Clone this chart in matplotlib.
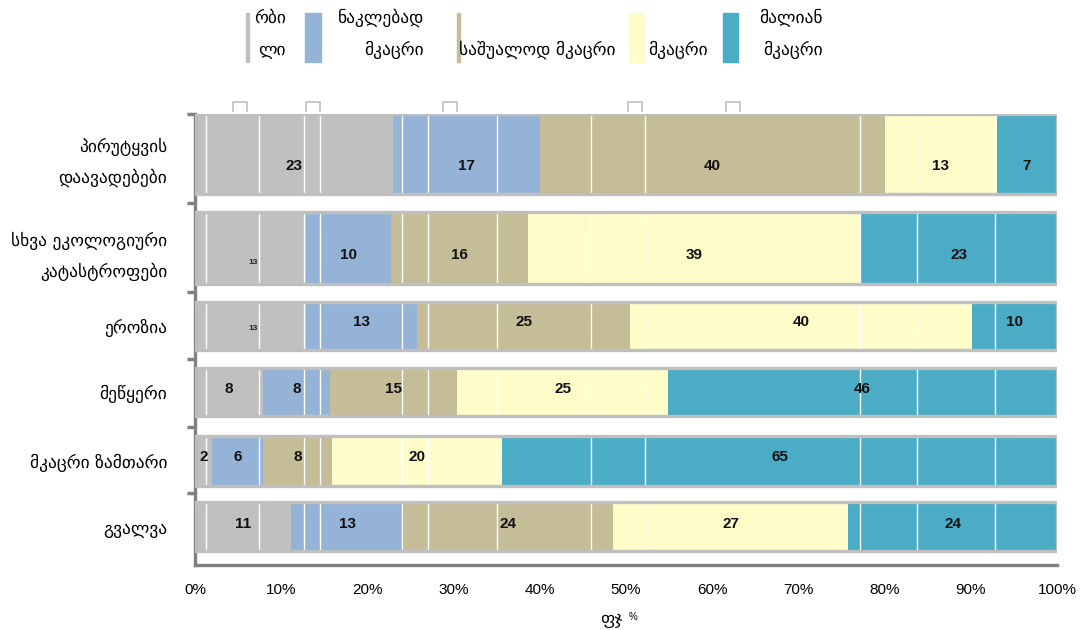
import numpy as np
import matplotlib
matplotlib.use("Agg")
import matplotlib.pyplot as plt
from matplotlib.patches import Rectangle

# survey shares per hazard (row labels as printed, left to right by severity)
categories = [
    "პირუტყვის\nდაავადებები",
    "სხვა ეკოლოგიური\nკატასტროფები",
    "ეროზია",
    "მეწყერი",
    "მკაცრი ზამთარი",
    "გვალვა",
]
soft = [23, 13, 13, 8, 2, 11]
less_severe = [17, 10, 13, 8, 6, 13]
medium = [40, 16, 25, 15, 8, 24]
severe = [13, 39, 40, 25, 20, 27]
very_severe = [7, 23, 10, 46, 65, 24]

series_names = ["რბი\nლი", "ნაკლებად\nმკაცრი", "საშუალოდ მკაცრი", "მკაცრი", "მალიან\nმკაცრი"]
colors = ["#c0c0c0", "#95b3d7", "#c4bd97", "#fefdca", "#4bacc6"]
tick_values = np.arange(0, 101, 10)

W, H = 1086, 630
GEO = "DejaVu Sans"
NUM = "Liberation Sans"
GEO_SIZE = 12.5

# row layout in pixels: band heights, bar padding, bar heights, label nudges
band_px = [89, 89, 67, 68, 66, 72]
bar_pad = [0, 9, 10, 9, 9, 9]
bar_h = [80, 72, 48, 48, 50, 49]
label_dy = [12, 7, -4, -3, -4, -3]
small_label = {(1, 0), (2, 0)}
streaks = [1.3, 7.4, 12.6, 14.5, 24.0, 27.0, 35.0, 45.9, 52.2, 77.1, 83.8, 92.8]

fig = plt.figure(figsize=(W / 100, H / 100), dpi=100)
ax = fig.add_axes([195 / W, 1 - 565 / H, 862 / W, 451 / H])

edges = np.concatenate([[0], np.cumsum(band_px)])
centers = edges[:-1] + np.array(bar_pad) + np.array(bar_h) / 2

data = np.array([soft, less_severe, medium, severe, very_severe], dtype=float)
shares = data / data.sum(axis=0) * 100
left = np.zeros(len(categories))

for k in range(len(series_names)):
    ax.barh(centers, shares[k], left=left, height=bar_h, color=colors[k],
            edgecolor="none", zorder=2)
    for i in range(len(categories)):
        x = left[i] + shares[k][i] / 2
        if (i, k) in small_label:
            ax.text(x + 0.3, centers[i] + label_dy[i] + 7, f"{int(data[k][i])}",
                    ha="center", va="center", fontsize=6, fontweight="bold",
                    family=NUM, color="#222222", zorder=5)
        else:
            ax.text(x, centers[i] + label_dy[i], f"{int(data[k][i])}",
                    ha="center", va="center", fontsize=11, fontweight="bold",
                    family=NUM, color="#111111", zorder=5)
    left += shares[k]

# thin white streaks running through the bars
for i in range(len(categories)):
    top = centers[i] - bar_h[i] / 2
    ax.vlines(streaks, top, top + bar_h[i], color="white", lw=1, zorder=3)

# grey frame around each full bar
ax.barh(centers, 100, height=bar_h, fill=False, edgecolor="#bfbfbf",
        linewidth=2.4, zorder=4)

ax.set_xlim(0, 100)
ax.set_ylim(edges[-1], 0)

ax.set_xticks(tick_values)
ax.set_xticklabels([f"{v}%" for v in tick_values], family=NUM, fontsize=11)
ax.tick_params(axis="x", length=0, pad=13)

ax.set_yticks(centers)
ax.set_yticklabels(categories, family=GEO, fontsize=GEO_SIZE)
for lab in ax.get_yticklabels():
    lab.set_linespacing(1.9)
ax.tick_params(axis="y", which="major", length=0, pad=20)
ax.set_yticks(edges[:-1], minor=True)
ax.tick_params(axis="y", which="minor", length=6, width=2.5, color="#808080",
               direction="out")

for side in ["top", "right"]:
    ax.spines[side].set_visible(False)
for side in ["left", "bottom"]:
    ax.spines[side].set_color("#808080")
    ax.spines[side].set_linewidth(2.4)

# x axis caption
fig.text(600 / W, 1 - 619 / H, "ფჯ", family=GEO, fontsize=GEO_SIZE, ha="left", va="center")
fig.text(629 / W, 1 - 617 / H, "%", family=NUM, fontsize=7, ha="left", va="center")

# legend drawn by hand across the top
legend_items = [
    # patch left, patch width, text anchor x, alignment, second-line only
    (246, 3, 286, "right", False),
    (305, 16, 424, "right", False),
    (457, 3, 459, "left", True),
    (629, 15, 648, "left", True),
    (723, 15, 823, "right", False),
]
for (px, pw, tx, align, low), name, c in zip(legend_items, series_names, colors):
    fig.patches.append(Rectangle((px / W, 1 - 62 / H), pw / W, 49 / H,
                                 transform=fig.transFigure, color=c))
    lines = name.split("\n")
    if low:
        fig.text(tx / W, 1 - 50 / H, lines[0], family=GEO, fontsize=GEO_SIZE,
                 ha=align, va="center")
    else:
        fig.text(tx / W, 1 - 18 / H, lines[0], family=GEO, fontsize=GEO_SIZE,
                 ha=align, va="center")
        fig.text(tx / W, 1 - 50 / H, lines[1], family=GEO, fontsize=GEO_SIZE,
                 ha=align, va="center")

# small bracket marks above the first bar
for bx in [240, 313, 450, 635, 733]:
    x0, x1 = (bx - 7) / W, (bx + 7) / W
    y0, y1 = 1 - 111 / H, 1 - 102 / H
    fig.lines.append(plt.Line2D([x0, x0, x1, x1], [y0, y1, y1, y0],
                                transform=fig.transFigure, color="#bfbfbf", lw=1.2))

fig.savefig("out.png", dpi=100)
